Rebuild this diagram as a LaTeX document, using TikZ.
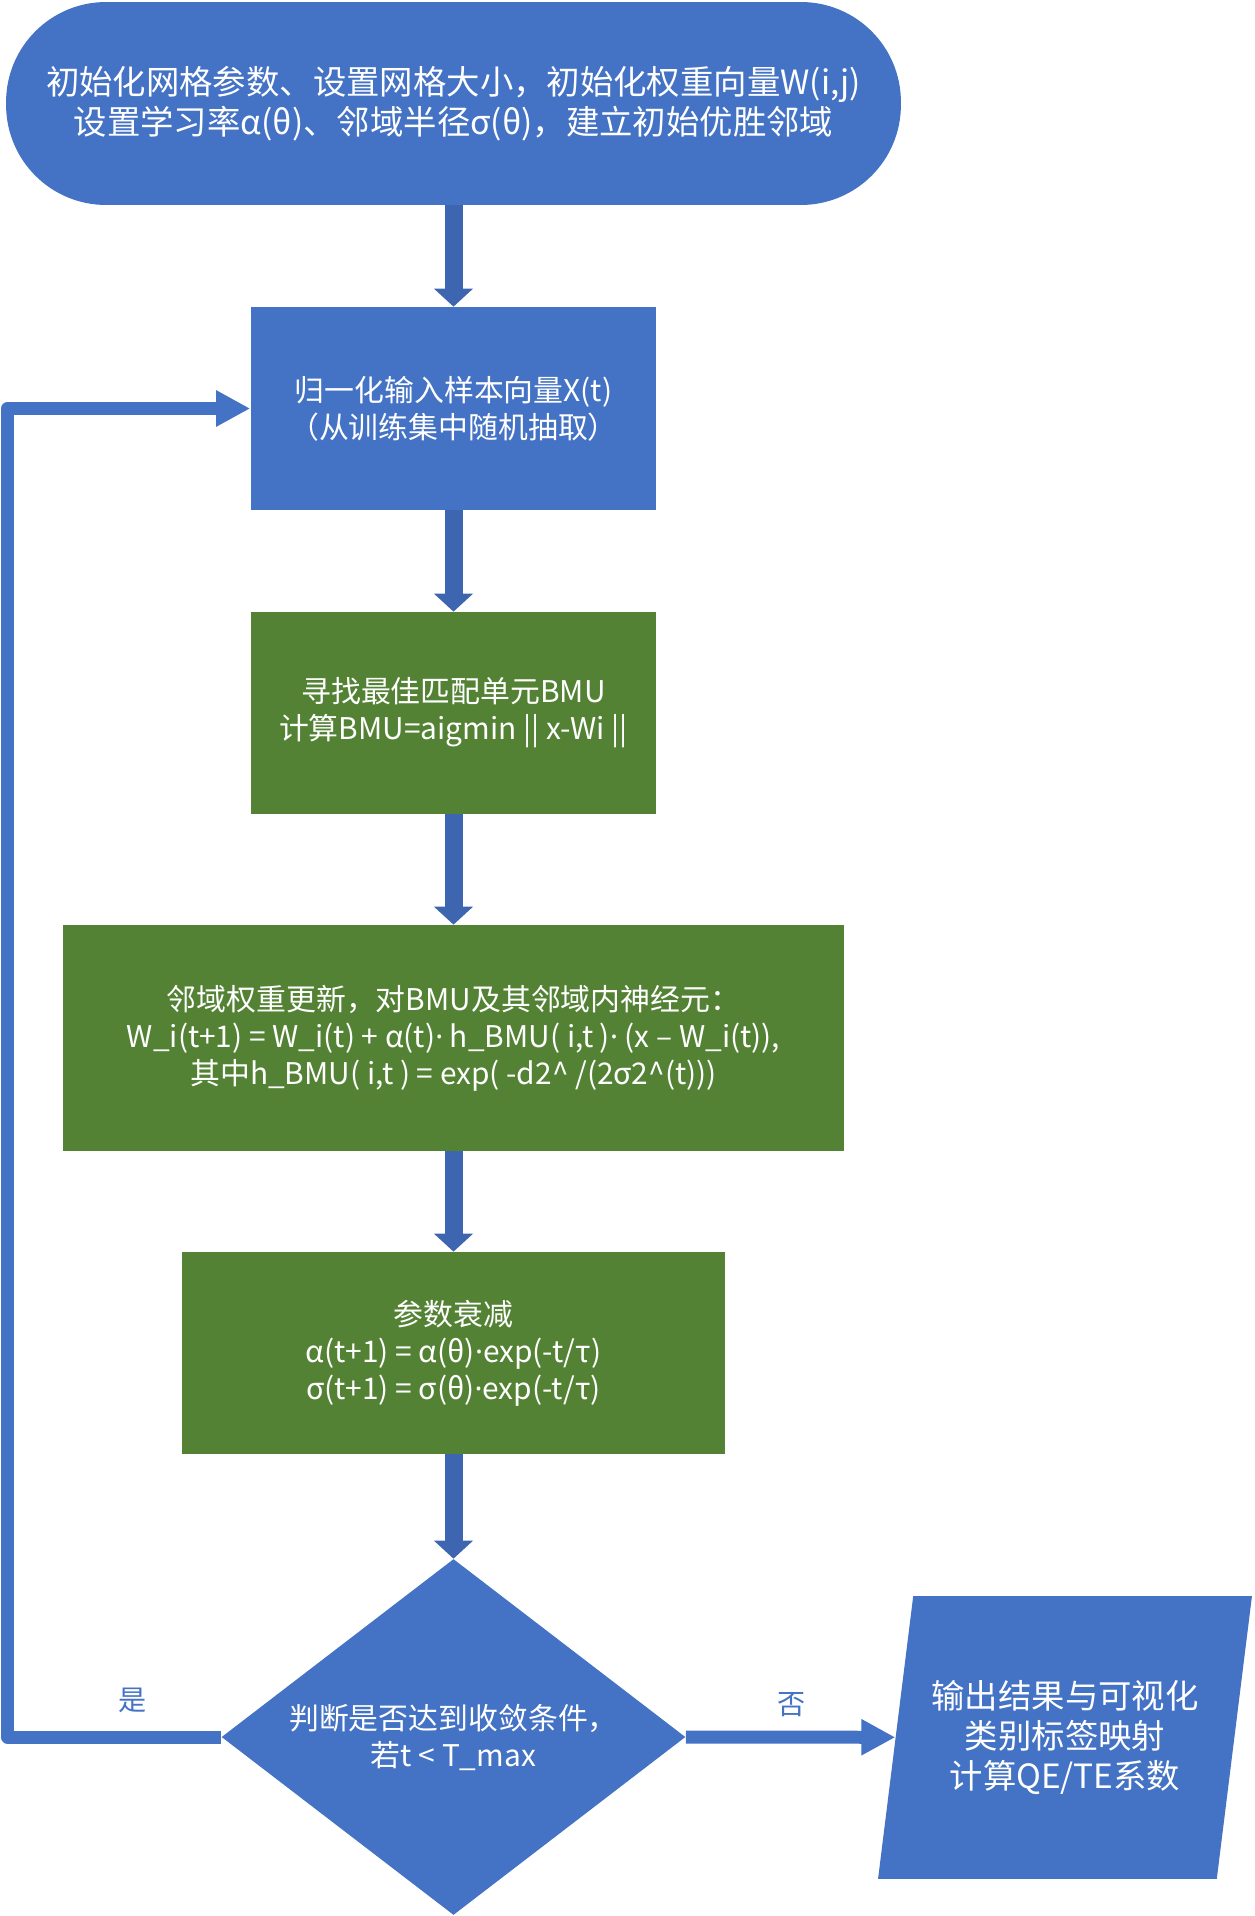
\documentclass[tikz,border=0pt]{standalone}
\usepackage{fontspec}
\setmainfont{Noto Sans CJK SC}
\newfontfamily\latinfont{Noto Sans}
\newcommand{\mdot}{{\latinfont ·}}
\usetikzlibrary{arrows.meta,shapes.geometric}
\definecolor{boxblue}{HTML}{4472C4}
\definecolor{boxgreen}{HTML}{548235}
\definecolor{arrblue}{HTML}{3D65B0}

\begin{document}
\begin{tikzpicture}[x=0.02cm, y=-0.02cm,
        blue box/.style={rectangle, fill=boxblue, text=white, align=center, inner sep=0pt, font=\fontsize{17}{21}\selectfont},
        green box/.style={blue box, fill=boxgreen},
        down/.style={-{Triangle[width=0.76cm,length=0.36cm]}, line width=0.36cm, arrblue},
        side/.style={-{Triangle[width=0.68cm,length=0.68cm]}, line width=0.26cm, boxblue, line join=round},
        answer/.style={text=boxblue, font=\fontsize{16}{19}\selectfont}]
    \useasboundingbox (0,0) rectangle (1254,1916);

    \node[blue box, rounded corners=2cm, minimum width=17.9cm, minimum height=4.06cm, font=\fontsize{19}{23}\selectfont](init) at (453.5,103.5)
        {初始化网格参数、设置网格大小，初始化权重向量W(i,j)\\设置学习率α(θ)、邻域半径σ(θ)，建立初始优胜邻域};
    \node[blue box, minimum width=8.12cm, minimum height=4.06cm](norm) at (453.5,408.5)
        {归一化输入样本向量X(t)\\（从训练集中随机抽取）};
    \node[green box, minimum width=8.12cm, minimum height=4.04cm](bmu) at (453.5,713)
        {寻找最佳匹配单元BMU\\计算BMU=aigmin || x-Wi ||};
    \node[green box, minimum width=15.62cm, minimum height=4.52cm](upd) at (453.5,1038)
        {邻域权重更新，对BMU及其邻域内神经元：\\W\_i(t+1) = W\_i(t) + α(t)\mdot\ h\_BMU( i,t )\mdot\ (x – W\_i(t)),\\其中h\_BMU( i,t ) = exp( -d2\textasciicircum{} /(2σ2\textasciicircum{}(t)))};
    \node[green box, minimum width=10.86cm, minimum height=4.04cm](decay) at (453.5,1353)
        {参数衰减\\α(t+1) = α(θ)\mdot exp(-t/τ)\\σ(t+1) = σ(θ)\mdot exp(-t/τ)};
    \node[blue box, diamond, aspect=1.3, minimum width=9.28cm, minimum height=7.12cm](check) at (453.5,1737)
        {判断是否达到收敛条件，\\若t < T\_max};
    \node[blue box, trapezium, trapezium left angle=73, trapezium right angle=107, trapezium stretches body, minimum width=7.48cm, minimum height=5.66cm, font=\fontsize{19}{23}\selectfont](out) at (1065,1737.5)
        {输出结果与可视化\\类别标签映射\\计算QE/TE系数};

    \draw[down](init.south)--(norm.north);
    \draw[down](norm.south)--(bmu.north);
    \draw[down](bmu.south)--(upd.north);
    \draw[down](upd.south)--(decay.north);
    \draw[down](decay.south)--(check.north);

    \coordinate(loop) at (7.5,0);
    \draw[side](check.west)-|(loop |- norm.west)--(norm.west);
    \draw[side](check.east)--(out);

    \node[answer](yes) at (133,1700){是};
    \node[answer](no) at (792,1705){否};
\end{tikzpicture}
\end{document}
